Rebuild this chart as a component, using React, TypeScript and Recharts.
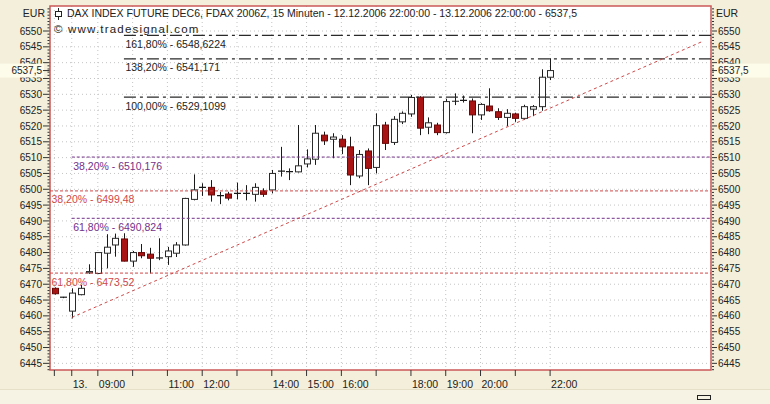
import { Bar, CartesianGrid, ComposedChart, ReferenceArea, ReferenceLine, XAxis, YAxis } from 'recharts'

// 15-minute bars, 12.12.2006 22:00 .. 13.12.2006 22:00
const OPEN = [
  6468.7, 6465.9, 6461.5, 6466.7, 6473.6, 6473.4, 6479.8, 6482.4, 6484.3, 6477.3,
  6480.0, 6479.5, 6478.2, 6478.7, 6479.8, 6482.4, 6496.8, 6500.5, 6500.6, 6497.9,
  6498.5, 6498.6, 6498.6, 6498.4, 6499.5, 6499.8, 6505.6, 6505.5, 6505.5, 6508.0,
  6509.5, 6517.1, 6515.8, 6515.8, 6513.4, 6504.2, 6512.1, 6506.9, 6520.3, 6514.8,
  6521.3, 6523.8, 6529.1, 6519.6, 6520.3, 6517.9, 6527.7, 6528.0, 6527.9, 6523.5,
  6526.3, 6524.5, 6522.7, 6523.8, 6522.4, 6525.3, 6526.1, 6535.4,
]
const HIGH = [
  6469.0, 6466.0, 6468.7, 6469.8, 6476.3, 6480.1, 6485.8, 6486.0, 6486.1, 6480.5,
  6482.7, 6481.5, 6484.5, 6481.8, 6483.3, 6497.3, 6504.7, 6501.9, 6502.9, 6499.2,
  6499.2, 6502.1, 6501.3, 6501.9, 6500.3, 6506.1, 6513.4, 6506.6, 6520.3, 6512.6,
  6520.3, 6518.2, 6517.7, 6517.1, 6516.6, 6512.4, 6512.9, 6524.0, 6521.3, 6523.1,
  6524.6, 6529.8, 6529.4, 6522.7, 6521.0, 6528.6, 6530.3, 6529.6, 6528.7, 6527.2,
  6531.9, 6525.6, 6525.3, 6524.2, 6526.7, 6526.6, 6537.9, 6541.4,
]
const LOW = [
  6466.7, 6465.6, 6459.2, 6466.5, 6473.3, 6473.3, 6475.0, 6478.7, 6477.2, 6475.5,
  6478.2, 6473.4, 6477.6, 6476.1, 6478.6, 6482.2, 6496.5, 6497.9, 6496.1, 6495.3,
  6496.5, 6496.8, 6496.5, 6496.1, 6497.6, 6498.7, 6504.0, 6502.9, 6505.3, 6506.9,
  6507.7, 6514.0, 6509.8, 6511.1, 6501.3, 6503.5, 6501.3, 6505.0, 6512.4, 6514.0,
  6520.6, 6522.9, 6517.1, 6517.4, 6517.1, 6517.6, 6526.6, 6527.4, 6517.7, 6521.9,
  6524.5, 6521.9, 6520.0, 6521.3, 6521.9, 6523.1, 6524.8, 6534.5,
]
const CLOSE = [
  6467.0, 6465.8, 6467.2, 6468.7, 6474.0, 6480.0, 6481.7, 6484.5, 6477.3, 6480.0,
  6479.0, 6478.2, 6478.3, 6480.5, 6482.4, 6497.1, 6499.8, 6500.6, 6498.2, 6498.0,
  6497.2, 6498.7, 6498.7, 6500.6, 6498.4, 6505.0, 6505.7, 6505.6, 6507.4, 6509.6,
  6517.7, 6515.3, 6516.5, 6513.4, 6504.5, 6511.0, 6506.6, 6520.1, 6514.5, 6522.1,
  6524.0, 6529.0, 6519.3, 6521.0, 6517.9, 6527.7, 6527.8, 6528.1, 6523.5, 6526.8,
  6524.8, 6522.7, 6524.0, 6522.4, 6526.1, 6526.1, 6535.4, 6537.5,
]
const SLOTS = 76 // chart keeps empty room to the right of the last bar
const LAST_PRICE = 6537.5

const TICK_INDEX = [0, 2, 5, 9, 13, 17, 21, 25, 29, 33, 37, 41, 45, 49, 53, 57]
const TICK_LABELS = ['', '13.', '09:00', '', '11:00', '12:00', '', '14:00', '15:00', '16:00', '', '18:00', '19:00', '20:00', '', '22:00']

const Y_TICKS = [6445, 6450, 6455, 6460, 6465, 6470, 6475, 6480, 6485, 6490, 6495, 6500, 6505, 6510, 6515, 6520, 6525, 6530, 6535, 6540, 6545, 6550]
const Y_DOMAIN = [6442.9, 6557.9]
const MINOR_TICKS = Array.from({ length: 115 }, (_, k) => 6443 + k)
// last price goes last so its box is painted over the other tick labels
const AXIS_TICKS = [...MINOR_TICKS, LAST_PRICE]

// fibonacci extensions (black), retracements (purple / red)
const EXT_LEVELS = [6548.6224, 6541.171, 6529.1099]
const EXT_LABELS = ['161,80% - 6548,6224', '138,20% - 6541,171', '100,00% - 6529,1099']
const EXT_START = 8
const PURPLE_LEVELS = [6510.176, 6490.824]
const PURPLE_LABELS = ['38,20% - 6510,176', '61,80% - 6490,824']
const PURPLE_START = 2
const RED_LEVELS = [6499.48, 6473.52]
const RED_LABELS = ['38,20% - 6499,48', '61,80% - 6473,52']

const TREND_X = [2, 74.6]
const TREND_Y = [6459.5, 6546.8]

const rows = Array.from({ length: SLOTS }, (_, i) => ({
  i,
  o: OPEN[i],
  h: HIGH[i],
  l: LOW[i],
  c: CLOSE[i],
}))

const FONT = '"Liberation Sans", Arial, sans-serif'
const RED = '#d04848'
const PURPLE = '#74308a'
const PRICE_BG = '#fdfbe9'

function Candle(props: any) {
  const { x, y, width, height, payload } = props
  if (!payload || payload.o == null) return <g />
  const { o, h, l, c } = payload
  const top = Math.min(y, y + height)
  const bottom = Math.max(y, y + height)
  const px = (bottom - top) / (h - l)
  const toY = (v: number) => bottom - (v - l) * px
  const cx = Math.round(x + width / 2) + 0.5
  const yTop = toY(Math.max(o, c))
  const yBot = toY(Math.min(o, c))
  const down = c < o
  return (
    <g>
      <line x1={cx} x2={cx} y1={top} y2={bottom} stroke="#1a1a1a" strokeWidth={1} />
      {yBot - yTop < 1.2 ? (
        <line x1={cx - 3.5} x2={cx + 3.5} y1={yTop} y2={yTop} stroke="#1a1a1a" strokeWidth={1.2} />
      ) : (
        <rect
          x={cx - 3}
          y={yTop}
          width={6}
          height={yBot - yTop}
          fill={down ? '#a81414' : '#ffffff'}
          stroke={down ? '#6a0808' : '#2a2a2a'}
          strokeWidth={1}
        />
      )}
    </g>
  )
}

function XTick({ x, y, payload }: any) {
  const label = TICK_LABELS[TICK_INDEX.indexOf(payload.value)]
  return (
    <text x={x + 1} y={y} dy="0.71em" textAnchor="start" fontSize={10.5} fill="#222" fontFamily={FONT}>
      {label}
    </text>
  )
}

function LeftTick({ x, y, payload }: any) {
  const v = payload.value
  if (v === LAST_PRICE) {
    return (
      <g>
        <rect x={0} y={y - 7} width={44} height={14} fill={PRICE_BG} />
        <line x1={x - 7} x2={x - 0.5} y1={y} y2={y} stroke="#333" />
        <text x={x - 8} y={y} dy="0.36em" textAnchor="end" fontSize={10} fill="#222" fontFamily={FONT}>
          6537,5
        </text>
      </g>
    )
  }
  const major = Y_TICKS.includes(v)
  return (
    <g>
      <line x1={major ? x - 7 : x - 2.5} x2={x - 0.5} y1={y} y2={y} stroke="#333" />
      {major && (
        <text x={x - 8} y={y} dy="0.36em" textAnchor="end" fontSize={10} fill="#222" fontFamily={FONT}>
          {v}
        </text>
      )}
    </g>
  )
}

function RightTick({ x, y, payload }: any) {
  const v = payload.value
  if (v === LAST_PRICE) {
    return (
      <g>
        <rect x={x + 3} y={y - 7} width={60} height={14} fill={PRICE_BG} />
        <line x1={x + 1} x2={x + 6} y1={y} y2={y} stroke="#333" />
        <text x={x + 7} y={y} dy="0.36em" textAnchor="start" fontSize={10} fill="#222" fontFamily={FONT}>
          6537,5
        </text>
      </g>
    )
  }
  const major = Y_TICKS.includes(v)
  return (
    <g>
      <line x1={x + 1} x2={major ? x + 6 : x + 3} y1={y} y2={y} stroke="#333" />
      {major && (
        <text x={x + 7} y={y} dy="0.36em" textAnchor="start" fontSize={10} fill="#222" fontFamily={FONT}>
          {v}
        </text>
      )}
    </g>
  )
}

const fibLabel = (text: string, fill: string) => (props: any) => {
  const vb = props.viewBox || {}
  return (
    <text x={vb.x + 1.5} y={vb.y + 12.5} fill={fill} fontSize={10.5} fontFamily={FONT}>
      {text}
    </text>
  )
}

export default function App() {
  return (
    <div
      style={{
        position: 'absolute',
        left: 0,
        top: 0,
        width: 770,
        height: 404,
        background: '#f3efda',
        fontFamily: FONT,
        overflow: 'hidden',
      }}
    >
      <ComposedChart width={770} height={404} data={rows} margin={{ top: 6, right: 0, bottom: 12, left: 0 }}>
        <CartesianGrid
          fill="#ffffff"
          stroke="#c4c4c4"
          strokeDasharray="1 3"
          horizontalValues={Y_TICKS}
        />
        <XAxis
          dataKey="i"
          type="category"
          ticks={TICK_INDEX}
          interval={0}
          height={22}
          tickSize={6}
          tickMargin={5}
          axisLine={false}
          tickLine={{ stroke: '#333' }}
          tick={<XTick />}
        />
        <XAxis xAxisId="n" dataKey="i" type="number" domain={[-0.5, SLOTS - 0.5]} allowDataOverflow hide />
        <YAxis
          domain={Y_DOMAIN}
          allowDataOverflow
          ticks={AXIS_TICKS}
          interval={0}
          width={50}
          tickSize={0}
          tickMargin={0}
          axisLine={false}
          tickLine={false}
          tick={<LeftTick />}
        />
        <YAxis
          yAxisId="r"
          orientation="right"
          domain={Y_DOMAIN}
          allowDataOverflow
          ticks={AXIS_TICKS}
          interval={0}
          width={59}
          tickSize={0}
          tickMargin={0}
          axisLine={false}
          tickLine={false}
          tick={<RightTick />}
        />
        {RED_LEVELS.map((v, k) => (
          <ReferenceLine
            key={'r' + k}
            y={v}
            stroke={RED}
            strokeDasharray="3 2"
            label={fibLabel(RED_LABELS[k], RED)}
          />
        ))}
        {PURPLE_LEVELS.map((v, k) => (
          <ReferenceLine
            key={'p' + k}
            xAxisId="n"
            segment={[{ x: PURPLE_START, y: v }, { x: SLOTS - 0.5, y: v }]}
            stroke={PURPLE}
            strokeDasharray="3 2"
            label={fibLabel(PURPLE_LABELS[k], PURPLE)}
          />
        ))}
        {EXT_LEVELS.map((v, k) => (
          <ReferenceLine
            key={'e' + k}
            xAxisId="n"
            segment={[{ x: EXT_START, y: v }, { x: SLOTS - 0.5, y: v }]}
            stroke="#2a2a2a"
            strokeWidth={1.3}
            strokeDasharray="12 4 3 4"
            label={fibLabel(EXT_LABELS[k], '#222')}
          />
        ))}
        <ReferenceLine
          xAxisId="n"
          segment={[{ x: TREND_X[0], y: TREND_Y[0] }, { x: TREND_X[1], y: TREND_Y[1] }]}
          stroke={RED}
          strokeDasharray="3 3"
        />
        <Bar
          dataKey={(d: any) => (d.o == null ? null : [d.l, d.h])}
          barSize={7}
          shape={<Candle />}
          isAnimationActive={false}
        />
        <ReferenceArea
          xAxisId="n"
          x1={-0.5}
          x2={SLOTS - 0.5}
          y1={Y_DOMAIN[0]}
          y2={Y_DOMAIN[1]}
          fill="none"
          stroke="#cc5a5a"
          strokeWidth={1.5}
          ifOverflow="visible"
        />
      </ComposedChart>

      <div style={{ position: 'absolute', left: 0, top: 7, width: 45, textAlign: 'right', fontSize: 10.5, color: '#222' }}>EUR</div>
      <div style={{ position: 'absolute', left: 716, top: 7, fontSize: 10.5, color: '#222' }}>EUR</div>
      <svg style={{ position: 'absolute', left: 54, top: 8 }} width={10} height={12}>
        <line x1={4.5} x2={4.5} y1={0} y2={12} stroke="#222" />
        <rect x={1.5} y={3.5} width={6} height={5} fill="#fff" stroke="#222" />
      </svg>
      <div
        style={{
          position: 'absolute',
          left: 67,
          top: 7,
          fontSize: 10.5,
          color: '#222',
          whiteSpace: 'nowrap',
        }}
      >
        DAX INDEX FUTURE DEC6, FDAX 2006Z, 15 Minuten - 12.12.2006 22:00:00 - 13.12.2006 22:00:00 - 6537,5
      </div>
      <div
        style={{
          position: 'absolute',
          left: 54,
          top: 23,
          fontSize: 11.5,
          letterSpacing: 1.2,
          color: '#222',
          whiteSpace: 'nowrap',
        }}
      >
        © www.tradesignal.com
      </div>
      <div
        style={{
          position: 'absolute',
          left: 0,
          top: 389,
          width: 770,
          height: 15,
          background: '#f6f3e4',
          borderTop: '1px solid #e6e0c8',
        }}
      />
      <div style={{ position: 'absolute', left: 697, top: 395, width: 12, height: 3, border: '1px solid #222' }} />
    </div>
  )
}
